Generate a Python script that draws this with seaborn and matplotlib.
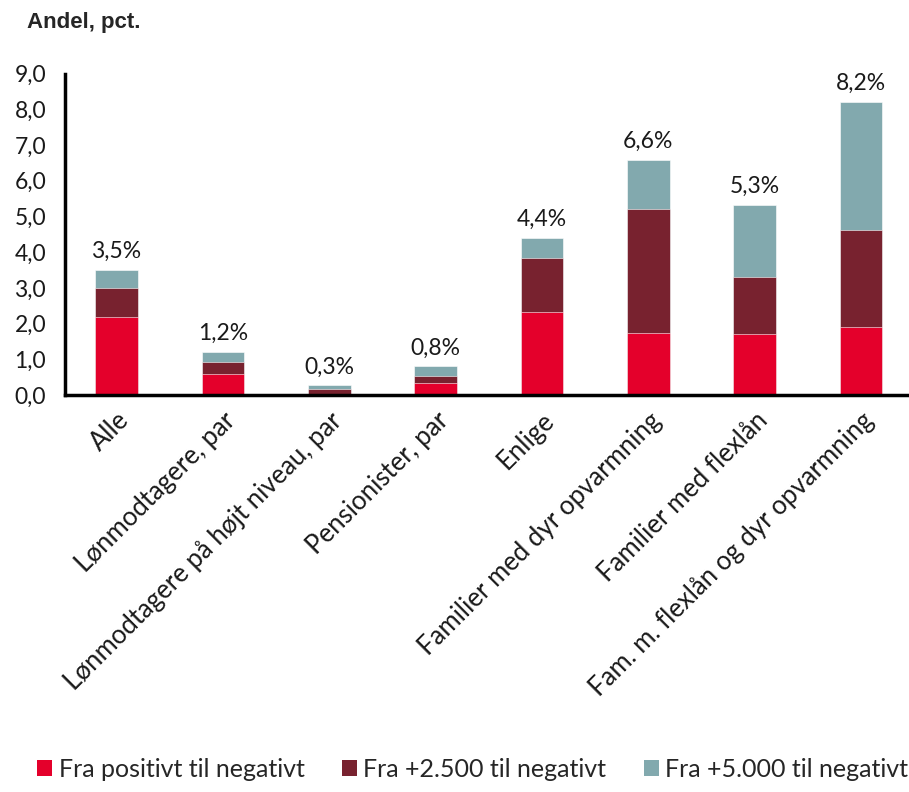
import numpy as np
import pandas as pd
import matplotlib
matplotlib.use("Agg")
import matplotlib.pyplot as plt
import seaborn as sns
from matplotlib.patches import Patch

categories = [
    "Alle",
    "Lønmodtagere, par",
    "Lønmodtagere på højt niveau, par",
    "Pensionister, par",
    "Enlige",
    "Familier med dyr opvarmning",
    "Familier med flexlån",
    "Fam. m. flexlån og dyr opvarmning",
]
fra_positivt = [2.20, 0.60, 0.03, 0.34, 2.33, 1.73, 1.70, 1.90]
fra_2500 = [0.80, 0.33, 0.15, 0.20, 1.52, 3.49, 1.62, 2.72]
fra_5000 = [0.50, 0.28, 0.10, 0.27, 0.55, 1.37, 2.00, 3.59]
series_names = ["Fra positivt til negativt", "Fra +2.500 til negativt", "Fra +5.000 til negativt"]
colors = ["#E4002B", "#78222F", "#82A9AE"]
yticks = [0, 1, 2, 3, 4, 5, 6, 7, 8, 9]

df = pd.DataFrame({
    "kategori": categories,
    "s1": fra_positivt,
    "s2": fra_2500,
    "s3": fra_5000,
})
df["c1"] = df["s1"]
df["c2"] = df["s1"] + df["s2"]
df["c3"] = df["s1"] + df["s2"] + df["s3"]

sns.set_theme(style="white")
plt.rcParams["font.family"] = ["Lato", "DejaVu Sans"]

fig = plt.figure(figsize=(9.09, 7.92), dpi=100)
ax = fig.add_axes([0.072, 0.501, 0.928, 0.406])

# stacked bars: draw cumulative totals from the top down
for col, color in zip(["c3", "c2", "c1"], colors[::-1]):
    sns.barplot(data=df, x="kategori", y=col, color=color, width=0.4,
                edgecolor="white", linewidth=0.4, saturation=1, ax=ax)

for i, total in enumerate(df["c3"]):
    ax.text(i, total + 0.22, f"{total:.1f}%".replace(".", ","),
            ha="center", va="bottom", fontsize=16.5, color="#1a1a1a")

ax.set_ylim(0, 9)
ax.set_xlim(-0.48, 7.45)
ax.set_yticks(yticks)
ax.set_yticklabels([f"{v:.1f}".replace(".", ",") for v in yticks], fontsize=16.5)
ax.set_xticks(range(len(categories)))
ax.set_xticklabels(categories, rotation=45, ha="right", rotation_mode="anchor", fontsize=18.5)
ax.tick_params(axis="y", length=0, pad=14, colors="#1a1a1a")
ax.tick_params(axis="x", length=0, pad=9, colors="#1a1a1a")
ax.set_xlabel("")
ax.set_ylabel("")
for side in ["top", "right"]:
    ax.spines[side].set_visible(False)
for side in ["left", "bottom"]:
    ax.spines[side].set_color("black")
    ax.spines[side].set_linewidth(2.5)

fig.text(0.03, 0.972, "Andel, pct.", fontsize=16, fontweight="bold",
         family=["Liberation Sans", "DejaVu Sans"], va="center")

handles = [Patch(facecolor=c, edgecolor="none") for c in colors]
fig.legend(handles, series_names, loc="lower center", bbox_to_anchor=(0.52, -0.014),
           ncol=3, frameon=False, fontsize=18, handlelength=0.6, handleheight=0.6,
           handletextpad=0.25, columnspacing=1.5)

fig.savefig("out.png", dpi=100)
